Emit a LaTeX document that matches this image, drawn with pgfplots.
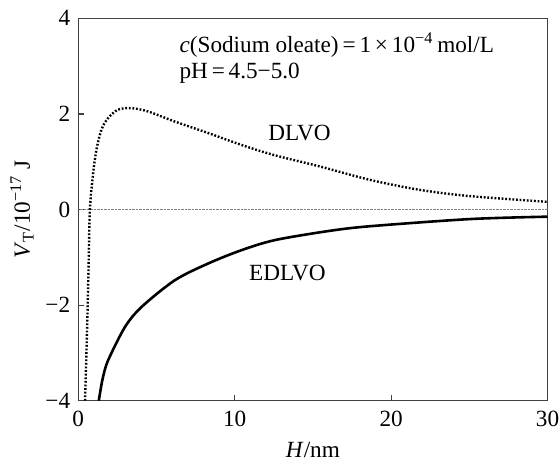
\documentclass[border=0pt]{standalone}
\usepackage{fontspec}
\setmainfont{Liberation Serif}
\usepackage{pgfplots}
\pgfplotsset{compat=1.18}

\begin{document}
\fontsize{11.6}{13.9}\selectfont
\begin{tikzpicture}
\useasboundingbox (-39.15pt,-30.15pt) rectangle (240.85pt,200.35pt);
\begin{axis}[
	scale only axis,
	width=234.6pt, height=191.2pt,
	xmin=0, xmax=30, ymin=-4, ymax=4,
	xtick={0,10,20,30},
	ytick={-4,-2,0,2,4},
	yticklabels={−4,−2,0,2,4},
	/pgf/number format/assume math mode=true,
	xtick pos=left, ytick pos=left,
	tick align=inside,
	major tick length=3pt,
	axis line style={line width=0.7pt, black!75},
	tick style={line width=0.6pt, black!75},
	xticklabel style={yshift=-1pt},
	every axis x label/.style={at={(axis description cs:0.5,-0.128)}, anchor=center},
	every axis y label/.style={at={(axis description cs:-0.12,0.5)}, anchor=center, rotate=90},
	xlabel={\textit{H}/nm},
	ylabel={\textit{V}\textsubscript{T}/10\textsuperscript{−17} J},
]
% zero reference line
\addplot[gray, line width=0.5pt, dash pattern=on 0.35pt off 0.35pt] coordinates {(0,0) (30,0)};

% DLVO
\addplot[black, line width=1.2pt, dash pattern=on 0.9pt off 0.9pt, smooth] coordinates {
	(0.43,-4) (0.52,-3) (0.6,-2) (0.67,-1) (0.74,0) (0.95,0.76) (1.16,1.25)
	(1.48,1.67) (1.9,1.91) (2.55,2.09) (3.4,2.12) (4.47,2.05) (6.17,1.84)
	(8.3,1.6) (10.44,1.35) (12.5,1.14) (15.45,0.9) (18.65,0.62) (21.85,0.41)
	(25.05,0.28) (30,0.16)};

% EDLVO
\addplot[black, line width=1.3pt, smooth] coordinates {
	(1.31,-4) (1.55,-3.55) (1.9,-3.16) (2.98,-2.46) (4.04,-2.04) (6.17,-1.48)
	(8.3,-1.13) (10.44,-0.85) (12.57,-0.64) (16,-0.45) (18.65,-0.35)
	(25.05,-0.2) (30,-0.15)};

\node[anchor=base west, inner sep=0pt] at (axis cs:6.45,3.29)
	{\textit{c}(Sodium oleate)\,=\,1\,×\,10\textsuperscript{−4}\,mol/L};
\node[anchor=base west, inner sep=0pt] at (axis cs:6.45,2.74) {pH\,=\,4.5−5.0};
\node at (axis cs:14.14,1.60) {DLVO};
\node at (axis cs:13.37,-1.33) {EDLVO};
\end{axis}
\end{tikzpicture}
\end{document}
